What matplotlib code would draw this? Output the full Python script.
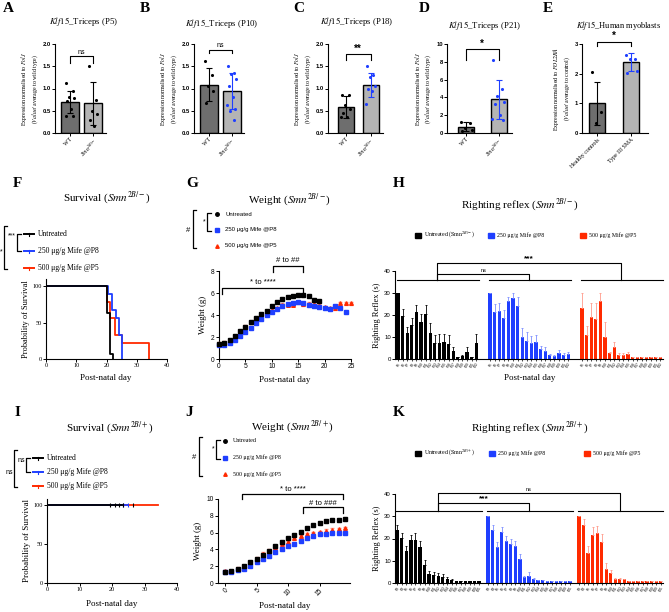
import numpy as np
import matplotlib
matplotlib.use('Agg')
import matplotlib.pyplot as plt
from matplotlib.lines import Line2D
from matplotlib.patches import Rectangle

plt.rcParams['font.family'] = 'Liberation Sans'
plt.rcParams['mathtext.fontset'] = 'stix'
plt.rcParams['axes.linewidth'] = 0.8
SERIF = 'Liberation Serif'

# ---- data: qPCR panels A-E (points, bar mean, bar SD) ----
A_wt = [1.12, 0.95, 0.80, 0.78, 0.72, 0.55, 0.38, 0.38]
A_mut = [1.50, 0.75, 0.50, 0.42, 0.30, 0.15]
A_mean, A_sd = [0.70, 0.67], [0.24, 0.48]
B_wt = [1.62, 1.30, 1.05, 0.95, 0.68]
B_mut = [1.50, 1.35, 1.33, 1.22, 1.05, 0.80, 0.62, 0.55, 0.50, 0.30]
B_mean, B_sd = [1.08, 0.94], [0.37, 0.40]
C_wt = [0.85, 0.85, 0.62, 0.55, 0.45, 0.35, 0.35]
C_mut = [1.50, 1.30, 1.25, 1.05, 1.00, 0.95, 0.65]
C_mean, C_sd = [0.59, 1.08], [0.25, 0.27]
D_wt = [1.20, 1.10, 0.60, 0.30, 0.20]
D_mut = [8.20, 5.00, 4.20, 3.50, 3.30, 2.00, 1.60, 1.50]
D_mean, D_sd = [0.70, 3.80], [0.50, 2.20]
E_wt = [2.05, 0.70, 0.35]
E_mut = [2.62, 2.50, 2.48, 2.10, 2.02]
E_mean, E_sd = [1.00, 2.38], [0.72, 0.30]

# ---- survival (step times / % surviving) ----
F_black_t, F_black_s = [0, 20, 21, 22], [100, 63, 7, 0]
F_blue_t, F_blue_s = [0, 20.6, 21.9, 23, 24.1, 25.2], [100, 89, 67, 56, 33, 0]
F_red_t, F_red_s = [0, 20.2, 21.1, 22.8, 25, 34], [100, 78, 56, 33, 22, 0]
I_end = [23, 25, 34]
I_black_censor = [19.5, 21, 22.3, 23.5, 26.5]
I_blue_censor = [23.5, 24.8]

# ---- weights ----
G_black = [1.40, 1.50, 1.75, 2.10, 2.55, 2.95, 3.35, 3.70, 4.05, 4.40, 4.85, 5.20, 5.50, 5.65, 5.75,
           5.80, 5.80, 5.70, 5.35, 5.30]
G_blue = [1.30, 1.30, 1.50, 1.75, 2.05, 2.45, 2.80, 3.25, 3.60, 4.00, 4.30, 4.55, 4.85, 5.00, 5.10,
          5.20, 5.05, 4.90, 4.85, 4.75, 4.60, 4.55, 4.85, 4.60, 4.30]
G_red = [1.40, 1.45, 1.65, 2.00, 2.45, 2.90, 3.35, 3.60, 3.95, 4.20, 4.50, 4.60, 4.90, 4.95, 4.95,
         5.15, 5.00, 5.00, 5.00, 4.85, 4.70, 4.60, 4.60, 5.05, 5.05, 5.05]
J_black = [1.35, 1.40, 1.65, 2.00, 2.45, 2.90, 3.35, 3.85, 4.40, 4.85, 5.30, 5.70, 6.10, 6.50, 6.85,
           7.20, 7.35, 7.45, 7.55, 7.65]
J_blue = [1.35, 1.35, 1.50, 1.70, 2.05, 2.45, 2.85, 3.25, 3.65, 4.00, 4.35, 4.70, 5.05, 5.35, 5.60,
          5.80, 5.85, 5.90, 5.90, 5.95]
J_red = [1.40, 1.45, 1.70, 2.00, 2.40, 2.90, 3.50, 3.85, 4.20, 4.60, 4.90, 5.30, 5.55, 5.80, 5.95,
         6.10, 6.25, 6.35, 6.45, 6.55]

# ---- righting reflex ----
H_days = ['P%d' % d for d in range(5, 23)]
H_black = [30, 19.5, 12, 15.5, 21.5, 17, 20.5, 12, 7.5, 7.5, 7.8, 7, 3.5, 1, 1.5, 3.2, 1, 7.5]
H_black_err = [0, 3.3, 2.5, 3, 3, 3.5, 4, 4.5, 3.5, 3.7, 3.5, 4, 2, 0, 0.5, 2.3, 0, 3.8]
H_blue = [30, 21.5, 22, 18.8, 26.5, 27.7, 24.2, 10.2, 8.3, 7.5, 7.6, 4.7, 3.8, 1.7, 1.5, 2.7, 2, 2.3]
H_blue_err = [0, 3.5, 3.5, 3.7, 1.5, 2.3, 3.8, 3.8, 4.2, 3, 3.4, 1.3, 1.7, 0.6, 0.5, 1.3, 0.8, 1]
H_red = [23.2, 11, 19.2, 18.4, 26.2, 10, 2.9, 5.4, 1.6, 2, 2.4, 1, 1, 1, 1, 1, 1, 1]
H_red_err = [6.8, 4, 6.3, 7.1, 3.8, 7, 0.1, 2.3, 1.1, 0.8, 1, 0, 0, 0, 0, 0, 0, 0]
K_days = ['P%d' % d for d in range(3, 22)]
K_black = [24, 20.2, 14.5, 19.2, 19.5, 16.2, 8.2, 3.9, 3.4, 3, 2.7, 2, 1.5, 1, 1, 1, 1, 1, 1]
K_black_err = [2.2, 2.3, 2.3, 2.5, 3, 2.8, 2.3, 1.3, 1.6, 1.5, 1.5, 0.7, 0.5, 0, 0, 0, 0, 0, 0]
K_blue = [30, 24, 16, 23, 18.9, 17.5, 16.5, 10.8, 2.7, 3.3, 2, 1.5, 1.3, 1, 1, 1, 1, 1, 1]
K_blue_err = [0, 2, 2.4, 2, 2.1, 2.5, 2.5, 2.2, 0.6, 1.5, 0.2, 0, 0, 0, 0, 0, 0, 0, 0]
K_red = [30, 26.2, 13.5, 21.7, 22.5, 18.3, 6.3, 4.5, 2, 2, 1.6, 1, 1, 1, 1, 1, 1, 1, 1]
K_red_err = [0, 2.6, 3.3, 3.5, 3.3, 3.9, 2.7, 1.2, 0.2, 0.2, 0.1, 0, 0, 0, 0, 0, 0, 0, 0]

BLUE = '#1f3fff'
RED = '#ff2a00'
LBLUE = '#7d8fff'
LRED = '#ff9a8a'

W, H = 669, 612
fig = plt.figure(figsize=(W / 100, H / 100), dpi=100)


def px_axes(l, t, r, b):
    ax = fig.add_axes([l / W, 1 - b / H, (r - l) / W, (b - t) / H])
    ax.spines[['top', 'right']].set_visible(False)
    ax.tick_params(length=2, width=0.7, pad=1)
    return ax


def ftext(x, y, s, **kw):
    kw.setdefault('va', 'center')
    fig.text(x / W, 1 - y / H, s, **kw)


def fline(xs, ys, **kw):
    kw.setdefault('color', 'k')
    kw.setdefault('lw', 0.8)
    fig.add_artist(Line2D([x / W for x in xs], [1 - y / H for y in ys], **kw))


def letter(x, y, s):
    ftext(x, y, s, fontsize=11, fontweight='bold', family=SERIF)


# ---------------- A-E ----------------
qpcr = [
    ('A', A_wt, A_mut, A_mean, A_sd, (55, 106, 70, 93, 18), 2, 'black', 'ns', (1.58, 1.72), 83, 22, 'P5'),
    ('B', B_wt, B_mut, B_mean, B_sd, (194, 244, 209, 231.5, 18), 2, BLUE, 'ns', (1.80, 1.87), 222, 23, 'P10'),
    ('C', C_wt, C_mut, C_mean, C_sd, (328, 383, 346, 370.5, 16), 2, BLUE, '**', (1.64, 1.77), 357, 22, 'P18'),
    ('D', D_wt, D_mut, D_mean, D_sd, (447, 512, 466, 498.5, 16), 10, BLUE, '*', (8.2, 9.4), 485, 25, 'P21'),
    ('E', E_wt, E_mut, E_mean, E_sd, (582, 648, 597, 631, 16), 3, BLUE, '*', (2.93, 3.06), 619, 25, None),
]
letter_x = {'A': 3, 'B': 140, 'C': 293, 'D': 419, 'E': 543}
jit = [-0.16, 0.12, -0.04, 0.18, -0.12, 0.05, -0.19, 0.14, -0.07, 0.09]
for key, wt, mut, mean, sd, geo, ymax, c2, sig, (y1, y2), tx, ty, age in qpcr:
    L, R, c1, c2px, bw = geo
    s = c2px - c1
    ax = px_axes(L, 44, R, 133)
    ax.set_xlim((L - c1) / s, (R - c1) / s)
    ax.set_ylim(0, ymax)
    ax.bar([0, 1], mean, width=bw / s, color=['#6e6e6e', '#b4b4b4'], edgecolor='k', lw=1.0, zorder=1)
    ax.errorbar([0], [mean[0]], yerr=[sd[0]], color='k', capsize=2, lw=0.8, capthick=0.8, zorder=3)
    ax.errorbar([1], [mean[1]], yerr=[sd[1]], color=c2, capsize=2, lw=0.8, capthick=0.8, zorder=3)
    ax.scatter([jit[i] for i in range(len(wt))], wt, s=5, color='k', zorder=4, lw=0)
    ax.scatter([1 + jit[i] for i in range(len(mut))], mut, s=5, color=c2, zorder=4, lw=0)
    ax.plot([0, 0, 1, 1], [y1, y2, y2, y1], color='k', lw=0.8, clip_on=False)
    ax.text(0.5, y2 + ymax * 0.01, sig, ha='center', va='bottom', fontsize=5 if sig == 'ns' else 7,
            fontweight='normal' if sig == 'ns' else 'bold')
    if ymax == 2:
        ax.set_yticks([0, 0.5, 1.0, 1.5, 2.0])
        ax.set_yticklabels(['0.0', '0.5', '1.0', '1.5', '2.0'])
    elif ymax == 10:
        ax.set_yticks([0, 2, 4, 6, 8, 10])
    else:
        ax.set_yticks([0, 1, 2, 3])
    for lab in ax.get_yticklabels():
        lab.set_fontsize(4.2)
        lab.set_fontweight('bold')
    ax.set_xticks([0, 1])
    if key == 'E':
        ax.set_xticklabels(['Healthy controls', 'Type III SMA'], fontsize=4.2, family=SERIF,
                           rotation=45, ha='right', rotation_mode='anchor')
        ylab = 'Expression normalised to $\\mathit{POL2RA}$\n($\\mathit{Value/}$ average to control)'
        ttl = '$\\mathit{Klf15}$_Human myoblasts'
        tfs = 6.0
    else:
        ax.set_xticklabels(['WT', '$\\mathit{Smn}^{2B/-}$'], fontsize=4.2, family=SERIF,
                           rotation=45, ha='right', rotation_mode='anchor')
        ylab = 'Expression normalised to $\\mathit{PolJ}$\n($\\mathit{Value/}$ average to wild type)'
        ttl = '$\\mathit{Klf15}$_Triceps (%s)' % age
        tfs = 6.3
    ax.set_ylabel(ylab, fontsize=4.2, family=SERIF, labelpad=2, linespacing=1.1)
    ftext(tx, ty, ttl, fontsize=tfs, family=SERIF, ha='center')
    letter(letter_x[key], 8, key)


# ---------------- survival F / I ----------------
def surv_legend(y0, dy, xl, inner, outer, xi, xo):
    cols = ['k', BLUE, RED]
    labs = ['Untreated', '250 \u03bcg/g Mife @P8', '500 \u03bcg/g Mife @P5']
    for i in range(3):
        y = y0 + i * dy
        fline([xl, xl + 10], [y, y], color=cols[i], lw=1.4)
        fline([xl + 5, xl + 5], [y - 1.5, y + 1.5], color=cols[i], lw=0.8)
        ftext(xl + 14, y, labs[i], fontsize=5.5, family=SERIF)
    # inner bracket
    fline([xi + 4, xi, xi, xi + 4], [y0, y0, y0 + dy, y0 + dy], lw=0.9)
    ftext(xi - 1, y0 + 2, inner, fontsize=5, ha='right')
    fline([xo + 3, xo, xo, xo + 3], [y0 - 8, y0 - 8, y0 + 2 * dy + 1, y0 + 2 * dy + 1], lw=0.9)
    ftext(xo - 1, y0 + dy + 1, outer, fontsize=5, ha='right')


axF = px_axes(46, 279, 167, 359)
axF.step(F_red_t, F_red_s, where='post', color=RED, lw=1.3)
axF.step(F_blue_t, F_blue_s, where='post', color=BLUE, lw=1.3)
axF.step(F_black_t, F_black_s, where='post', color='k', lw=1.3)
axF.set_xlim(0, 40)
axF.set_ylim(0, 110)
axF.set_xticks([0, 10, 20, 30, 40])
axF.set_yticks([0, 50, 100])
for lab in axF.get_xticklabels() + axF.get_yticklabels():
    lab.set_fontsize(4.5)
    lab.set_family(SERIF)
axF.set_ylabel('Probability of Survival', fontsize=6, family=SERIF, labelpad=2)
ftext(106, 378, 'Post-natal day', fontsize=6.5, family=SERIF, ha='center')
ftext(107, 198, 'Survival ($\\mathit{Smn}^{2B/-}$)', fontsize=8, family=SERIF, ha='center')
letter(13, 183, 'F')
surv_legend(234, 17, 24, '***', '*', 17, 4)

axI = px_axes(47, 499, 177, 583)
cols = [RED, BLUE, 'k']
for e, c in zip(I_end[::-1], cols):
    axI.plot([0, e], [100, 100], color=c, lw=1.3)
axI.plot(I_blue_censor, [100] * len(I_blue_censor), '|', color=BLUE, ms=3, mew=0.8)
axI.plot(I_black_censor, [100] * len(I_black_censor), '|', color='k', ms=3, mew=0.8)
axI.set_xlim(0, 40)
axI.set_ylim(0, 108)
axI.set_xticks([0, 10, 20, 30, 40])
axI.set_yticks([0, 50, 100])
for lab in axI.get_xticklabels() + axI.get_yticklabels():
    lab.set_fontsize(4.5)
    lab.set_family(SERIF)
axI.set_ylabel('Probability of Survival', fontsize=6.5, family=SERIF, labelpad=2)
ftext(112, 604, 'Post-natal day', fontsize=6.5, family=SERIF, ha='center')
ftext(110, 428, 'Survival ($\\mathit{Smn}^{2B/+}$)', fontsize=8, family=SERIF, ha='center')
letter(15, 412, 'I')
surv_legend(458, 14, 33, 'ns', 'ns', 26, 14)


# ---------------- weights G / J ----------------
def weight_legend(y0, dy, xm, xi, xo, serif):
    mk = [('o', 'k'), ('s', BLUE), ('^', RED)]
    labs = ['Untreated', '250 \u03bcg/g Mife @P8', '500 \u03bcg/g Mife @P5']
    for i in range(3):
        y = y0 + i * dy
        fig.add_artist(Line2D([xm / W], [1 - y / H], marker=mk[i][0], color=mk[i][1], ms=2.5, lw=0))
        ftext(xm + 8, y, labs[i], fontsize=4.3, family=SERIF if serif else 'Liberation Sans')
    fline([xi + 4, xi, xi, xi + 4], [y0 - 1, y0 - 1, y0 + dy + 1, y0 + dy + 1], lw=0.9)
    ftext(xi - 1, y0 + dy / 2, '*', fontsize=5, ha='right')
    fline([xo + 3, xo, xo, xo + 3], [y0 - 4, y0 - 4, y0 + 2 * dy + 2, y0 + 2 * dy + 2], lw=0.9)
    ftext(xo - 3, y0 + dy, '#', fontsize=5.5, ha='right')


def weight_plot(ax, black, blue, red):
    ax.errorbar(range(len(red)), red, yerr=0.15, fmt='^', color=RED, ecolor=LRED, ms=2.6,
                capsize=1.2, elinewidth=0.6, clip_on=False, zorder=3)
    ax.errorbar(range(len(blue)), blue, yerr=0.08, fmt='s', color=BLUE, ecolor=LBLUE, ms=2.6,
                capsize=1.2, elinewidth=0.6, clip_on=False, zorder=4)
    ax.errorbar(range(len(black)), black, yerr=0.06, fmt='s', color='k', ms=2.6,
                capsize=1.2, elinewidth=0.6, clip_on=False, zorder=5)


axG = px_axes(219, 271, 351, 359)
weight_plot(axG, G_black, G_blue, G_red)
axG.set_xlim(0, 25)
axG.set_ylim(0, 8)
axG.set_xticks([0, 5, 10, 15, 20, 25])
axG.set_yticks([0, 2, 4, 6, 8])
axG.tick_params(labelsize=4.8)
axG.set_ylabel('Weight (g)', fontsize=6.5, family=SERIF, labelpad=3)
axG.plot([0.5, 0.5, 16, 16], [5.9, 6.5, 6.5, 5.9], color='k', lw=0.9, clip_on=False)
axG.text(8.3, 6.6, '* to ****', ha='center', va='bottom', fontsize=5.5)
axG.plot([10.2, 10.2, 16, 16], [7.9, 8.5, 8.5, 7.9], color='k', lw=0.9, clip_on=False)
axG.text(13.1, 8.6, '# to ##', ha='center', va='bottom', fontsize=5.5)
ftext(285, 380, 'Post-natal day', fontsize=6.5, family=SERIF, ha='center')
ftext(290, 200, 'Weight ($\\mathit{Smn}^{2B/-}$)', fontsize=8, family=SERIF, ha='center')
letter(186, 183, 'G')
weight_legend(214, 16, 217, 207, 193, False)

axJ = px_axes(218, 499, 350, 583)
weight_plot(axJ, J_black, J_blue, J_red)
axJ.set_xlim(-1.1, 19.8)
axJ.set_ylim(0, 10)
axJ.set_xticks([0, 5, 10, 15])
axJ.set_yticks([0, 2, 4, 6, 8, 10])
axJ.tick_params(labelsize=4.8)
plt.setp(axJ.get_xticklabels(), rotation=45, ha='right', rotation_mode='anchor')
axJ.set_ylabel('Weight (g)', fontsize=6.5, family=SERIF, labelpad=3)
axJ.plot([2.7, 2.7, 18.7, 18.7], [10.0, 10.6, 10.6, 10.0], color='k', lw=0.9, clip_on=False)
axJ.text(10.7, 10.75, '* to ****', ha='center', va='bottom', fontsize=5.5)
axJ.plot([12.4, 12.4, 18.7, 18.7], [8.3, 9.0, 9.0, 8.3], color='k', lw=0.9, clip_on=False)
axJ.text(15.5, 9.1, '# to ###', ha='center', va='bottom', fontsize=5.5)
ftext(285, 606, 'Post-natal day', fontsize=6.5, family=SERIF, ha='center')
ftext(293, 427, 'Weight ($\\mathit{Smn}^{2B/+}$)', fontsize=8, family=SERIF, ha='center')
letter(185, 412, 'J')
weight_legend(441, 16.5, 225, 216, 199, True)


# ---------------- righting reflex H / K ----------------
def reflex(ax, days, groups, offset, xlim, gline, b1, b2, t1, t2):
    n = len(days)
    ticks, labels = [], []
    for g, (vals, errs, col, ecol) in enumerate(groups):
        x = np.arange(n) + g * offset
        ax.bar(x, vals, width=0.72, color=col, lw=0)
        ax.errorbar(x, vals, yerr=[np.zeros(n), errs], fmt='none', ecolor=ecol, elinewidth=0.6,
                    capsize=1.0, capthick=0.6)
        ticks += list(x)
        labels += days
        ax.plot([x[0] - 0.2, x[-1] + 0.6], [gline, gline], color='k', lw=0.8, clip_on=False)
    ax.set_xticks(ticks)
    ax.set_xticklabels(labels, fontsize=2.3, rotation=60, ha='right', rotation_mode='anchor')
    ax.tick_params(axis='x', length=1.5, width=0.5, pad=0.5)
    ax.set_xlim(*xlim)
    ax.set_ylim(0, 40)
    ax.set_yticks([0, 10, 20, 30, 40])
    ax.tick_params(axis='y', labelsize=4.3)
    mids = [(n - 1) / 2 + g * offset for g in range(3)]
    ax.plot([mids[0], mids[0], mids[1], mids[1]], [gline, b1, b1, gline], color='k', lw=0.8, clip_on=False)
    ax.plot([mids[0], mids[0], mids[2], mids[2]], [gline, b2, b2, gline], color='k', lw=0.8, clip_on=False)
    ax.text((mids[0] + mids[1]) / 2, b1 + 0.4, t1, ha='center', va='bottom',
            fontsize=4 if t1 == 'ns' else 6, fontweight='normal' if t1 == 'ns' else 'bold')
    ax.text((mids[0] + mids[2]) / 2, b2 + 0.4, t2, ha='center', va='bottom',
            fontsize=4 if t2 == 'ns' else 6, fontweight='normal' if t2 == 'ns' else 'bold')
    ax.set_ylabel('Righting Reflex (s)', fontsize=6, family=SERIF, labelpad=2)


def reflex_legend(y, xs, genotype):
    cols = ['k', BLUE, RED]
    labs = ['Untreated ($\\mathrm{Smn}^{%s}$)' % genotype, '250 \u03bcg/g Mife @P8', '500 \u03bcg/g Mife @P5']
    for x, c, lab in zip(xs, cols, labs):
        fig.add_artist(Rectangle(((x - 3) / W, 1 - (y + 2.5) / H), 6 / W, 5 / H, color=c,
                                 transform=fig.transFigure))
        ftext(x + 6, y, lab, fontsize=4.2, family=SERIF)


axH = px_axes(395, 271, 663, 359)
reflex(axH, H_days, [(H_black, H_black_err, 'k', 'k'), (H_blue, H_blue_err, BLUE, LBLUE),
                     (H_red, H_red_err, RED, LRED)], 20, (-0.65, 57.6), 36, 38.6, 43.6, 'ns', '***')
ftext(530, 378, 'Post-natal day', fontsize=6.5, family=SERIF, ha='center')
ftext(520, 205, 'Righting reflex ($\\mathit{Smn}^{2B/-}$)', fontsize=8, family=SERIF, ha='center')
letter(393, 183, 'H')
reflex_legend(235, [418, 491, 583], '2B/-')

axK = px_axes(395, 494, 663, 583)
reflex(axK, K_days, [(K_black, K_black_err, 'k', 'k'), (K_blue, K_blue_err, BLUE, LBLUE),
                     (K_red, K_red_err, RED, LRED)], 20, (-0.5, 58.5), 32.4, 36, 40.4, '***', 'ns')
ftext(530, 428, 'Righting reflex ($\\mathit{Smn}^{2B/+}$)', fontsize=8, family=SERIF, ha='center')
letter(393, 412, 'K')
reflex_legend(453, [418, 492, 587], '2B/+')

fig.savefig('out.png', dpi=100)
